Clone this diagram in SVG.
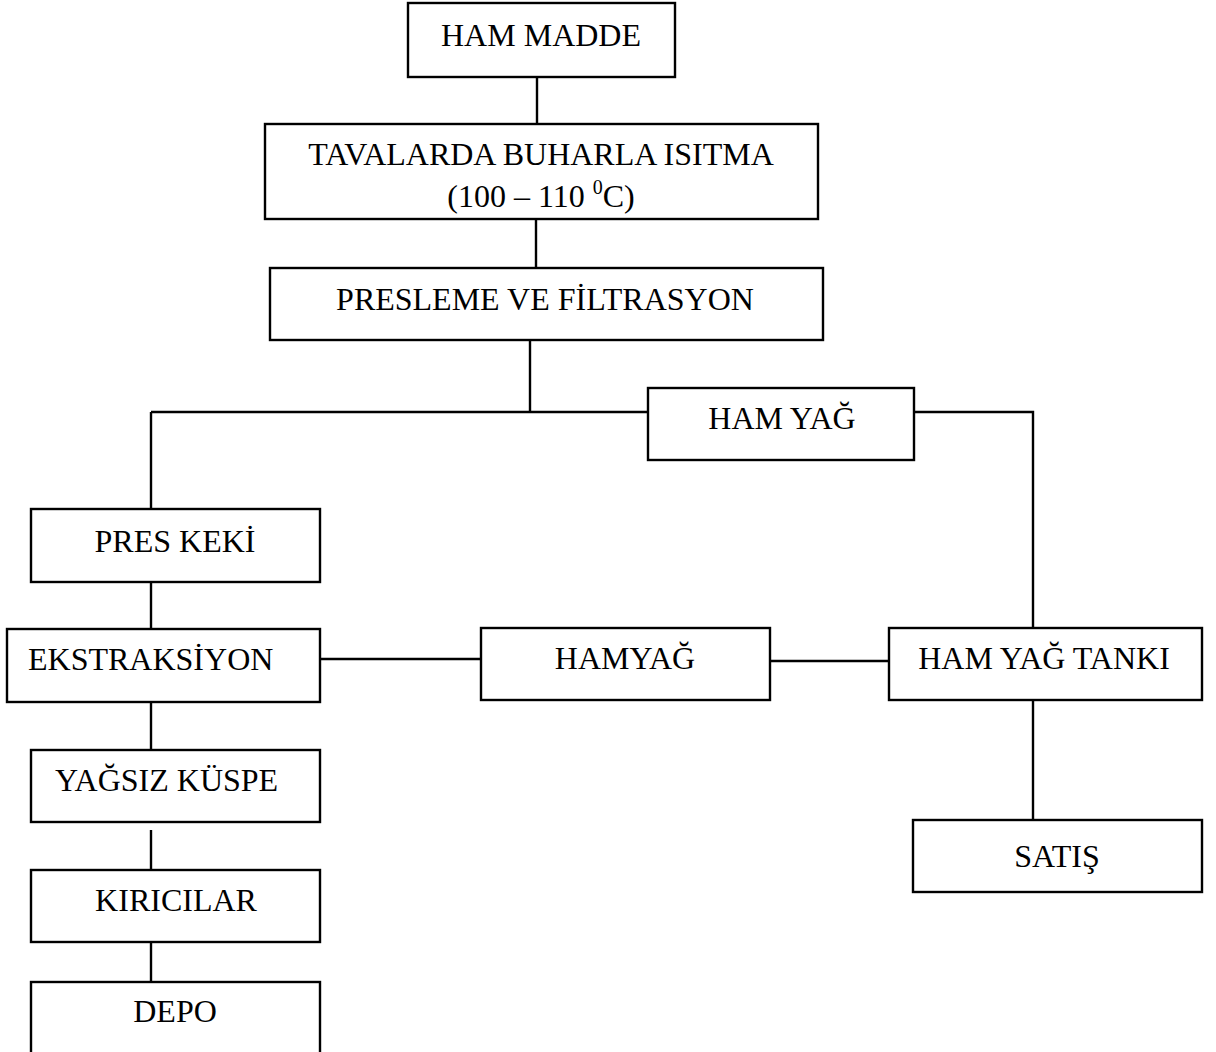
<svg xmlns="http://www.w3.org/2000/svg" width="1216" height="1052" viewBox="0 0 1216 1052">
<style>
.box{fill:#fff;stroke:#000;stroke-width:2.4}
.ln{fill:none;stroke:#000;stroke-width:2.4}
.t{font-family:"Liberation Serif","Times New Roman",serif;font-size:32px;fill:#000}
.m{text-anchor:middle}
</style>
<rect width="1216" height="1052" fill="#fff"/>
<g id="connectors">
<path class="ln" d="M537 77V124"/>
<path class="ln" d="M536 219V268"/>
<path class="ln" d="M530 340V412"/>
<path class="ln" d="M151 412H648"/>
<path class="ln" d="M914 412H1033V628"/>
<path class="ln" d="M151 412V509"/>
<path class="ln" d="M151 582V629"/>
<path class="ln" d="M320 659H481"/>
<path class="ln" d="M770 661H889"/>
<path class="ln" d="M1033 700V820"/>
<path class="ln" d="M151 702V750"/>
<path class="ln" d="M151 830V870"/>
<path class="ln" d="M151 942V982"/>
</g>
<g id="ham-madde">
<rect class="box" x="408" y="3" width="267" height="74"/>
<text class="t m" x="541" y="46">HAM MADDE</text>
</g>
<g id="tavalarda">
<rect class="box" x="265" y="124" width="553" height="95"/>
<text class="t m" x="541" y="165">TAVALARDA BUHARLA ISITMA</text>
<text class="t m" x="541" y="207">(100 – 110 <tspan font-size="20" dy="-13">0</tspan><tspan dy="13">C)</tspan></text>
</g>
<g id="presleme">
<rect class="box" x="270" y="268" width="553" height="72"/>
<text class="t m" x="545" y="310">PRESLEME VE FİLTRASYON</text>
</g>
<g id="ham-yag">
<rect class="box" x="648" y="388" width="266" height="72"/>
<text class="t m" x="782" y="429">HAM YAĞ</text>
</g>
<g id="pres-keki">
<rect class="box" x="31" y="509" width="289" height="73"/>
<text class="t m" x="175" y="552">PRES KEKİ</text>
</g>
<g id="ekstraksiyon">
<rect class="box" x="7" y="629" width="313" height="73"/>
<text class="t" x="28" y="670">EKSTRAKSİYON</text>
</g>
<g id="hamyag">
<rect class="box" x="481" y="628" width="289" height="72"/>
<text class="t m" x="625" y="669">HAMYAĞ</text>
</g>
<g id="ham-yag-tanki">
<rect class="box" x="889" y="628" width="313" height="72"/>
<text class="t m" x="1044" y="669">HAM YAĞ TANKI</text>
</g>
<g id="satis">
<rect class="box" x="913" y="820" width="289" height="72"/>
<text class="t m" x="1057" y="867">SATIŞ</text>
</g>
<g id="yagsiz-kuspe">
<rect class="box" x="31" y="750" width="289" height="72"/>
<text class="t" x="55" y="791">YAĞSIZ KÜSPE</text>
</g>
<g id="kiricilar">
<rect class="box" x="31" y="870" width="289" height="72"/>
<text class="t m" x="176" y="911">KIRICILAR</text>
</g>
<g id="depo">
<rect class="box" x="31" y="982" width="289" height="90"/>
<text class="t m" x="175" y="1022">DEPO</text>
</g>
</svg>
